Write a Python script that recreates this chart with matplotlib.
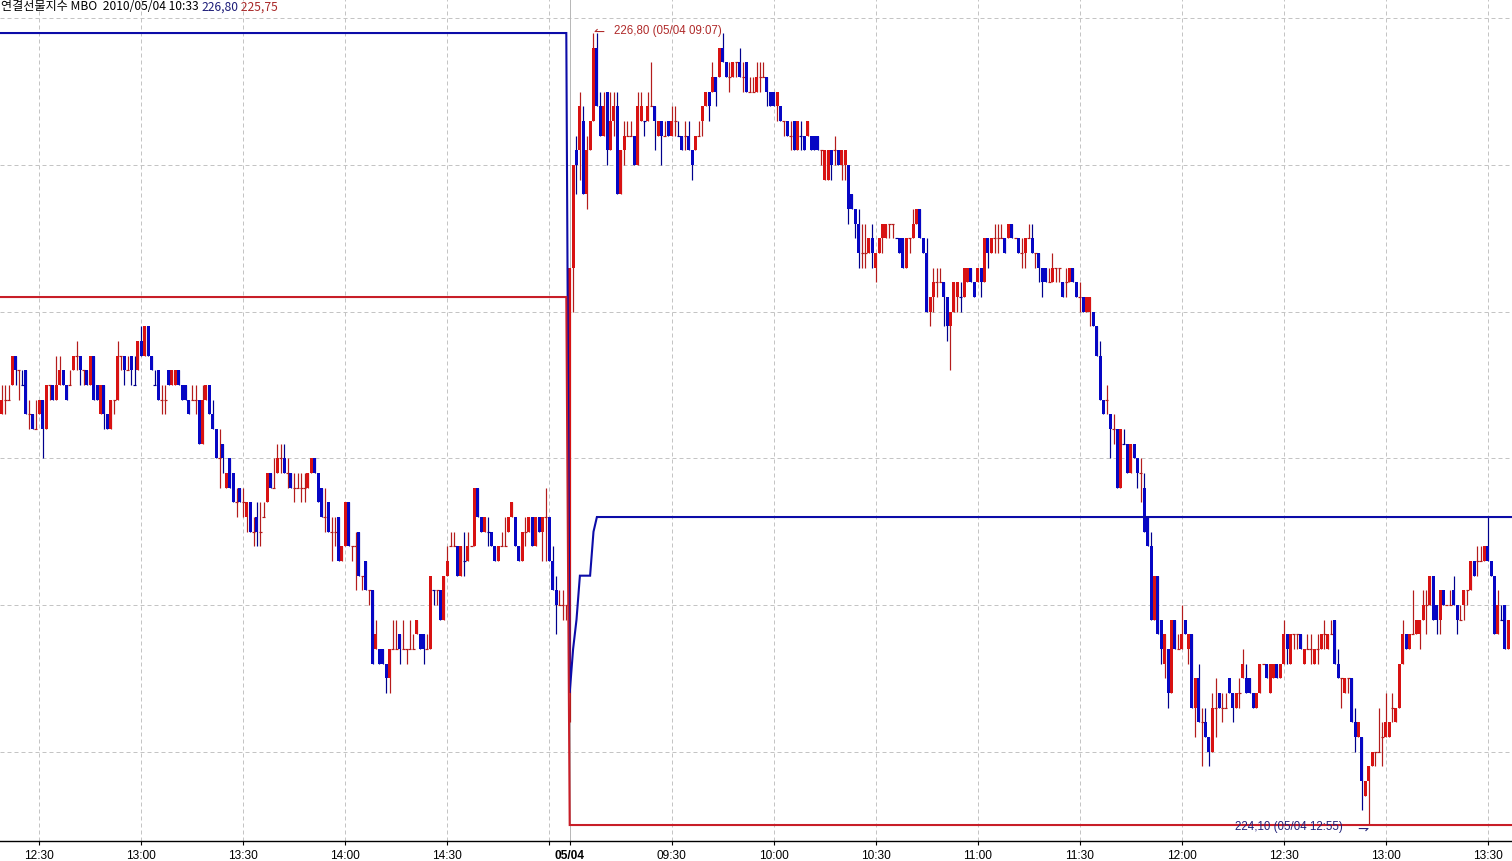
import matplotlib
matplotlib.use("Agg")

import numpy as np
import matplotlib.pyplot as plt
from matplotlib.transforms import offset_copy

# 1분봉, 전일 세션 (12:19 ~ 15:05)
prev_start = "12:19"
prev_open = [
    225.50, 225.55, 225.55, 225.60, 225.70, 225.65, 225.60, 225.65, 225.50, 225.50,
    225.45, 225.50, 225.55, 225.45, 225.60, 225.60, 225.55, 225.60, 225.65, 225.60,
    225.60, 225.65, 225.70, 225.70, 225.65, 225.65, 225.60, 225.70, 225.60, 225.50,
    225.60, 225.50, 225.45, 225.55, 225.55, 225.70, 225.70, 225.65, 225.70, 225.60,
    225.65, 225.75, 225.70, 225.80, 225.70, 225.60, 225.65, 225.55, 225.55, 225.65,
    225.60, 225.60, 225.65, 225.60, 225.60, 225.55, 225.55, 225.55, 225.55, 225.40,
    225.55, 225.60, 225.50, 225.45, 225.35, 225.40, 225.25, 225.35, 225.30, 225.20,
    225.25, 225.20, 225.15, 225.20, 225.10, 225.15, 225.10, 225.15, 225.20, 225.30,
    225.25, 225.30, 225.35, 225.35, 225.30, 225.30, 225.25, 225.25, 225.25, 225.25,
    225.25, 225.30, 225.35, 225.30, 225.25, 225.15, 225.20, 225.10, 225.10, 225.15,
    225.00, 225.05, 225.20, 225.05, 225.05, 225.10, 224.95, 225.00, 224.90, 224.90,
    224.70, 224.70, 224.70, 224.65, 224.60, 224.70, 224.70, 224.75, 224.70, 224.70,
    224.70, 224.70, 224.75, 224.75, 224.75, 224.70, 224.70, 224.90, 224.90, 224.90,
    224.80, 224.95, 225.05, 225.05, 225.05, 224.95, 225.00, 225.00, 225.05, 225.05,
    225.25, 225.15, 225.10, 225.10, 225.10, 225.05, 225.00, 225.05, 225.05, 225.10,
    225.15, 225.15, 225.05, 225.00, 225.10, 225.10, 225.15, 225.05, 225.15, 225.10,
    225.15, 225.15, 225.00, 224.90, 224.85, 224.85, 224.85,
]
prev_high = [
    225.60, 225.60, 225.60, 225.70, 225.70, 225.65, 225.65, 225.65, 225.55, 225.50,
    225.55, 225.55, 225.55, 225.60, 225.60, 225.60, 225.70, 225.70, 225.65, 225.60,
    225.65, 225.70, 225.75, 225.70, 225.65, 225.65, 225.70, 225.70, 225.60, 225.60,
    225.60, 225.50, 225.55, 225.55, 225.75, 225.70, 225.70, 225.70, 225.70, 225.70,
    225.75, 225.80, 225.80, 225.80, 225.70, 225.65, 225.65, 225.60, 225.60, 225.65,
    225.65, 225.65, 225.65, 225.60, 225.60, 225.55, 225.60, 225.60, 225.55, 225.60,
    225.60, 225.60, 225.55, 225.45, 225.45, 225.40, 225.30, 225.35, 225.30, 225.25,
    225.25, 225.25, 225.20, 225.20, 225.15, 225.20, 225.20, 225.20, 225.30, 225.30,
    225.35, 225.40, 225.40, 225.40, 225.35, 225.30, 225.30, 225.30, 225.30, 225.30,
    225.30, 225.35, 225.35, 225.30, 225.25, 225.25, 225.20, 225.15, 225.15, 225.15,
    225.05, 225.20, 225.20, 225.05, 225.10, 225.10, 224.95, 225.00, 224.90, 224.90,
    224.80, 224.70, 224.70, 224.65, 224.70, 224.80, 224.80, 224.75, 224.80, 224.70,
    224.80, 224.75, 224.80, 224.75, 224.75, 224.75, 224.95, 224.90, 224.90, 224.90,
    224.95, 225.05, 225.10, 225.10, 225.05, 225.05, 225.10, 225.10, 225.05, 225.25,
    225.25, 225.15, 225.15, 225.15, 225.10, 225.05, 225.05, 225.10, 225.15, 225.15,
    225.20, 225.15, 225.05, 225.10, 225.15, 225.15, 225.15, 225.15, 225.15, 225.15,
    225.25, 225.15, 225.05, 224.95, 224.90, 224.90, 224.85,
]
prev_low = [
    225.50, 225.50, 225.55, 225.60, 225.60, 225.55, 225.60, 225.50, 225.45, 225.45,
    225.45, 225.50, 225.35, 225.45, 225.55, 225.55, 225.55, 225.60, 225.60, 225.55,
    225.60, 225.65, 225.65, 225.60, 225.60, 225.60, 225.60, 225.55, 225.55, 225.50,
    225.45, 225.45, 225.45, 225.50, 225.55, 225.65, 225.60, 225.65, 225.60, 225.60,
    225.65, 225.70, 225.70, 225.70, 225.65, 225.60, 225.55, 225.50, 225.50, 225.60,
    225.60, 225.60, 225.60, 225.55, 225.55, 225.50, 225.55, 225.50, 225.40, 225.40,
    225.55, 225.50, 225.45, 225.35, 225.25, 225.30, 225.25, 225.25, 225.20, 225.15,
    225.20, 225.15, 225.10, 225.10, 225.05, 225.05, 225.05, 225.15, 225.20, 225.25,
    225.25, 225.30, 225.30, 225.30, 225.25, 225.25, 225.20, 225.25, 225.20, 225.20,
    225.25, 225.30, 225.30, 225.20, 225.15, 225.10, 225.10, 225.00, 225.05, 225.00,
    225.00, 225.05, 225.05, 225.00, 224.90, 224.95, 224.90, 224.90, 224.85, 224.65,
    224.70, 224.65, 224.65, 224.55, 224.55, 224.70, 224.70, 224.65, 224.70, 224.65,
    224.70, 224.70, 224.75, 224.70, 224.65, 224.70, 224.70, 224.85, 224.85, 224.80,
    224.80, 224.95, 225.05, 225.05, 224.95, 224.95, 224.95, 225.00, 225.05, 225.05,
    225.15, 225.10, 225.10, 225.05, 225.05, 225.00, 225.00, 225.05, 225.05, 225.10,
    225.15, 225.05, 225.00, 225.00, 225.05, 225.10, 225.05, 225.05, 225.10, 225.00,
    225.00, 225.00, 224.90, 224.75, 224.85, 224.80, 224.80,
]
prev_close = [
    225.55, 225.55, 225.55, 225.70, 225.65, 225.65, 225.60, 225.50, 225.50, 225.45,
    225.45, 225.55, 225.45, 225.60, 225.60, 225.55, 225.60, 225.65, 225.60, 225.55,
    225.60, 225.70, 225.70, 225.65, 225.65, 225.60, 225.70, 225.55, 225.55, 225.60,
    225.50, 225.45, 225.55, 225.55, 225.70, 225.70, 225.65, 225.65, 225.65, 225.60,
    225.75, 225.70, 225.80, 225.70, 225.65, 225.60, 225.55, 225.55, 225.55, 225.60,
    225.65, 225.65, 225.60, 225.55, 225.55, 225.50, 225.55, 225.55, 225.40, 225.55,
    225.60, 225.50, 225.45, 225.35, 225.35, 225.35, 225.30, 225.25, 225.20, 225.20,
    225.20, 225.20, 225.20, 225.10, 225.10, 225.10, 225.10, 225.15, 225.30, 225.25,
    225.25, 225.35, 225.35, 225.30, 225.30, 225.25, 225.25, 225.25, 225.25, 225.25,
    225.30, 225.35, 225.30, 225.20, 225.15, 225.15, 225.10, 225.10, 225.10, 225.00,
    225.05, 225.20, 225.05, 225.05, 225.05, 224.95, 224.95, 224.90, 224.90, 224.65,
    224.75, 224.65, 224.65, 224.60, 224.70, 224.70, 224.70, 224.70, 224.70, 224.70,
    224.70, 224.70, 224.80, 224.70, 224.70, 224.70, 224.95, 224.90, 224.90, 224.80,
    224.95, 225.00, 225.05, 225.05, 224.95, 225.05, 225.00, 225.05, 225.05, 225.25,
    225.15, 225.10, 225.15, 225.10, 225.05, 225.00, 225.05, 225.05, 225.05, 225.15,
    225.20, 225.05, 225.00, 225.10, 225.10, 225.15, 225.05, 225.15, 225.10, 225.15,
    225.15, 225.00, 224.90, 224.85, 224.85, 224.85, 224.85,
]

# 당일 세션 (05/04 09:00 ~ 13:36)
cur_date = "05/04"
cur_start = "09:00"
cur_open = [
    224.55, 226.00, 226.40, 226.40, 226.50, 226.25, 226.40, 226.50, 226.75, 226.55,
    226.45, 226.60, 226.40, 226.50, 226.55, 226.25, 226.40, 226.45, 226.45, 226.45,
    226.35, 226.50, 226.50, 226.50, 226.55, 226.55, 226.45, 226.50, 226.45, 226.50,
    226.45, 226.50, 226.45, 226.45, 226.45, 226.45, 226.40, 226.40, 226.45, 226.50,
    226.55, 226.60, 226.60, 226.65, 226.65, 226.75, 226.70, 226.65, 226.65, 226.70,
    226.70, 226.65, 226.70, 226.60, 226.60, 226.60, 226.65, 226.65, 226.65, 226.60,
    226.60, 226.55, 226.55, 226.50, 226.50, 226.45, 226.50, 226.40, 226.45, 226.45,
    226.45, 226.45, 226.45, 226.45, 226.40, 226.30, 226.30, 226.40, 226.40, 226.40,
    226.35, 226.35, 226.35, 226.25, 226.20, 226.15, 226.05, 226.05, 226.05, 226.10,
    226.00, 226.05, 226.10, 226.10, 226.15, 226.15, 226.10, 226.10, 226.10, 226.00,
    226.10, 226.10, 226.15, 226.20, 226.10, 226.05, 225.85, 225.90, 225.95, 225.95,
    225.95, 225.90, 225.80, 225.85, 225.90, 225.90, 225.90, 225.95, 226.00, 225.95,
    225.95, 226.00, 225.95, 226.10, 226.05, 226.10, 226.10, 226.10, 226.10, 226.10,
    226.15, 226.10, 226.10, 226.05, 226.05, 226.10, 226.10, 226.05, 226.05, 226.00,
    226.00, 225.95, 225.95, 226.00, 226.00, 225.95, 225.95, 225.95, 226.00, 225.95,
    225.90, 225.90, 225.85, 225.85, 225.85, 225.80, 225.70, 225.55, 225.55, 225.50,
    225.45, 225.45, 225.25, 225.40, 225.40, 225.30, 225.40, 225.35, 225.30, 225.25,
    225.15, 225.05, 224.80, 224.95, 224.80, 224.65, 224.70, 224.55, 224.80, 224.70,
    224.70, 224.80, 224.70, 224.75, 224.50, 224.60, 224.45, 224.45, 224.40, 224.35,
    224.50, 224.55, 224.50, 224.50, 224.60, 224.55, 224.50, 224.55, 224.60, 224.60,
    224.60, 224.55, 224.50, 224.55, 224.65, 224.65, 224.55, 224.60, 224.65, 224.60,
    224.65, 224.75, 224.65, 224.75, 224.75, 224.75, 224.65, 224.70, 224.70, 224.65,
    224.70, 224.70, 224.75, 224.70, 224.75, 224.80, 224.65, 224.60, 224.55, 224.60,
    224.60, 224.45, 224.40, 224.40, 224.20, 224.25, 224.30, 224.35, 224.35, 224.40,
    224.40, 224.40, 224.50, 224.45, 224.50, 224.65, 224.75, 224.70, 224.75, 224.75,
    224.75, 224.80, 224.85, 224.85, 224.95, 224.85, 224.80, 224.90, 224.85, 224.85,
    224.90, 224.85, 224.80, 224.85, 224.90, 224.90, 225.00, 225.00, 225.00, 225.00,
    225.05, 225.00, 224.95, 224.75, 224.80, 224.85, 224.70,
]
cur_high = [
    226.00, 226.35, 226.45, 226.60, 226.55, 226.45, 226.50, 226.80, 226.80, 226.60,
    226.60, 226.60, 226.60, 226.60, 226.60, 226.40, 226.50, 226.50, 226.50, 226.45,
    226.60, 226.60, 226.50, 226.60, 226.70, 226.55, 226.50, 226.50, 226.50, 226.50,
    226.55, 226.55, 226.50, 226.45, 226.50, 226.50, 226.40, 226.45, 226.50, 226.55,
    226.60, 226.60, 226.70, 226.65, 226.75, 226.80, 226.70, 226.70, 226.70, 226.70,
    226.75, 226.70, 226.70, 226.65, 226.65, 226.70, 226.70, 226.70, 226.65, 226.60,
    226.60, 226.60, 226.55, 226.50, 226.50, 226.50, 226.50, 226.50, 226.50, 226.45,
    226.50, 226.45, 226.45, 226.45, 226.40, 226.40, 226.40, 226.40, 226.45, 226.40,
    226.40, 226.40, 226.35, 226.25, 226.20, 226.20, 226.15, 226.15, 226.10, 226.15,
    226.05, 226.10, 226.15, 226.15, 226.15, 226.15, 226.10, 226.10, 226.10, 226.10,
    226.10, 226.20, 226.20, 226.20, 226.10, 226.10, 225.90, 226.00, 226.00, 226.00,
    225.95, 225.90, 225.85, 225.95, 225.95, 225.95, 226.00, 226.00, 226.00, 225.95,
    226.00, 226.00, 226.10, 226.10, 226.10, 226.15, 226.15, 226.15, 226.10, 226.15,
    226.15, 226.10, 226.10, 226.10, 226.10, 226.15, 226.15, 226.05, 226.05, 226.00,
    226.00, 226.00, 226.05, 226.00, 226.00, 225.95, 226.00, 226.00, 226.00, 225.95,
    225.95, 225.90, 225.90, 225.90, 225.85, 225.80, 225.75, 225.55, 225.60, 225.50,
    225.50, 225.45, 225.45, 225.45, 225.40, 225.40, 225.40, 225.35, 225.35, 225.30,
    225.15, 225.10, 224.95, 224.95, 224.80, 224.75, 224.70, 224.80, 224.80, 224.75,
    224.85, 224.80, 224.75, 224.75, 224.60, 224.65, 224.50, 224.50, 224.40, 224.55,
    224.60, 224.55, 224.55, 224.55, 224.60, 224.55, 224.55, 224.60, 224.70, 224.65,
    224.60, 224.55, 224.55, 224.65, 224.65, 224.65, 224.65, 224.65, 224.65, 224.65,
    224.80, 224.75, 224.75, 224.75, 224.75, 224.75, 224.70, 224.75, 224.75, 224.70,
    224.75, 224.75, 224.80, 224.75, 224.80, 224.80, 224.70, 224.60, 224.60, 224.60,
    224.60, 224.50, 224.45, 224.40, 224.25, 224.30, 224.35, 224.35, 224.50, 224.45,
    224.55, 224.45, 224.55, 224.50, 224.65, 224.80, 224.75, 224.75, 224.90, 224.80,
    224.80, 224.90, 224.90, 224.95, 224.95, 224.85, 224.90, 224.90, 224.85, 224.90,
    224.95, 224.85, 224.85, 224.90, 224.90, 225.00, 225.00, 225.05, 225.05, 225.05,
    225.15, 225.00, 224.95, 224.90, 224.85, 224.85, 224.80,
]
cur_low = [
    224.45, 225.85, 226.25, 226.30, 226.25, 226.20, 226.40, 226.50, 226.55, 226.45,
    226.45, 226.35, 226.40, 226.45, 226.25, 226.25, 226.35, 226.45, 226.45, 226.35,
    226.35, 226.50, 226.45, 226.50, 226.55, 226.40, 226.45, 226.35, 226.45, 226.45,
    226.45, 226.45, 226.45, 226.40, 226.40, 226.40, 226.30, 226.40, 226.45, 226.45,
    226.55, 226.50, 226.60, 226.55, 226.65, 226.70, 226.65, 226.60, 226.65, 226.65,
    226.65, 226.60, 226.60, 226.60, 226.60, 226.60, 226.60, 226.65, 226.55, 226.55,
    226.55, 226.50, 226.50, 226.45, 226.45, 226.40, 226.40, 226.40, 226.40, 226.40,
    226.45, 226.40, 226.40, 226.40, 226.35, 226.30, 226.30, 226.30, 226.35, 226.35,
    226.30, 226.30, 226.15, 226.20, 226.10, 226.00, 226.00, 226.00, 226.05, 226.00,
    225.95, 226.05, 226.05, 226.10, 226.10, 226.10, 226.10, 226.05, 226.00, 226.00,
    226.05, 226.10, 226.15, 226.10, 226.05, 225.85, 225.80, 225.85, 225.90, 225.95,
    225.80, 225.75, 225.65, 225.85, 225.85, 225.85, 225.90, 225.95, 225.95, 225.90,
    225.95, 225.90, 225.95, 226.00, 226.05, 226.05, 226.05, 226.10, 226.05, 226.10,
    226.10, 226.10, 226.05, 226.00, 226.00, 226.10, 226.05, 226.00, 225.95, 225.90,
    225.95, 225.95, 225.95, 225.95, 225.95, 225.90, 225.90, 225.95, 225.95, 225.90,
    225.85, 225.85, 225.85, 225.80, 225.80, 225.70, 225.55, 225.50, 225.50, 225.35,
    225.40, 225.25, 225.25, 225.40, 225.30, 225.30, 225.35, 225.25, 225.20, 225.10,
    225.05, 224.80, 224.80, 224.75, 224.65, 224.60, 224.50, 224.55, 224.70, 224.70,
    224.70, 224.75, 224.65, 224.50, 224.40, 224.45, 224.30, 224.40, 224.30, 224.35,
    224.40, 224.50, 224.45, 224.50, 224.55, 224.45, 224.50, 224.50, 224.60, 224.55,
    224.55, 224.50, 224.50, 224.55, 224.65, 224.60, 224.55, 224.60, 224.60, 224.60,
    224.65, 224.65, 224.65, 224.70, 224.70, 224.70, 224.65, 224.70, 224.65, 224.65,
    224.65, 224.70, 224.70, 224.70, 224.75, 224.65, 224.60, 224.50, 224.55, 224.55,
    224.45, 224.35, 224.40, 224.15, 224.20, 224.10, 224.30, 224.30, 224.35, 224.30,
    224.40, 224.40, 224.45, 224.45, 224.50, 224.65, 224.70, 224.70, 224.75, 224.75,
    224.70, 224.80, 224.75, 224.85, 224.80, 224.75, 224.75, 224.85, 224.85, 224.85,
    224.85, 224.75, 224.80, 224.80, 224.85, 224.90, 224.95, 224.95, 225.00, 225.00,
    225.00, 224.95, 224.75, 224.75, 224.80, 224.70, 224.70,
]
cur_close = [
    226.00, 226.35, 226.35, 226.55, 226.25, 226.40, 226.50, 226.75, 226.55, 226.45,
    226.55, 226.40, 226.50, 226.55, 226.25, 226.40, 226.45, 226.45, 226.45, 226.35,
    226.55, 226.55, 226.50, 226.55, 226.55, 226.50, 226.50, 226.45, 226.45, 226.45,
    226.50, 226.50, 226.45, 226.40, 226.45, 226.40, 226.35, 226.45, 226.45, 226.55,
    226.60, 226.55, 226.65, 226.60, 226.75, 226.70, 226.65, 226.65, 226.70, 226.70,
    226.65, 226.65, 226.60, 226.60, 226.60, 226.65, 226.65, 226.65, 226.60, 226.55,
    226.55, 226.60, 226.50, 226.50, 226.45, 226.45, 226.40, 226.50, 226.45, 226.40,
    226.50, 226.40, 226.40, 226.40, 226.40, 226.40, 226.40, 226.35, 226.40, 226.35,
    226.40, 226.40, 226.20, 226.20, 226.15, 226.05, 226.05, 226.05, 226.10, 226.05,
    226.05, 226.10, 226.15, 226.15, 226.15, 226.15, 226.10, 226.05, 226.00, 226.10,
    226.10, 226.15, 226.20, 226.10, 226.05, 225.85, 225.90, 225.95, 225.95, 225.95,
    225.90, 225.80, 225.85, 225.95, 225.95, 225.90, 226.00, 226.00, 225.95, 225.90,
    226.00, 225.95, 226.10, 226.05, 226.10, 226.10, 226.10, 226.10, 226.05, 226.15,
    226.10, 226.10, 226.05, 226.05, 226.10, 226.10, 226.05, 226.05, 226.00, 225.95,
    225.95, 225.95, 226.00, 226.00, 226.00, 225.90, 225.95, 226.00, 225.95, 225.90,
    225.90, 225.85, 225.90, 225.90, 225.80, 225.70, 225.55, 225.50, 225.55, 225.45,
    225.45, 225.25, 225.45, 225.40, 225.30, 225.40, 225.35, 225.30, 225.30, 225.10,
    225.05, 224.80, 224.95, 224.75, 224.70, 224.75, 224.55, 224.80, 224.70, 224.70,
    224.75, 224.75, 224.75, 224.50, 224.60, 224.45, 224.45, 224.40, 224.35, 224.50,
    224.50, 224.50, 224.50, 224.50, 224.55, 224.50, 224.55, 224.55, 224.65, 224.55,
    224.55, 224.50, 224.55, 224.65, 224.65, 224.60, 224.65, 224.65, 224.60, 224.65,
    224.75, 224.70, 224.75, 224.75, 224.75, 224.70, 224.70, 224.70, 224.70, 224.70,
    224.70, 224.75, 224.75, 224.75, 224.75, 224.65, 224.60, 224.60, 224.60, 224.60,
    224.45, 224.40, 224.45, 224.25, 224.25, 224.30, 224.35, 224.35, 224.35, 224.40,
    224.45, 224.45, 224.50, 224.50, 224.65, 224.75, 224.70, 224.75, 224.75, 224.80,
    224.80, 224.85, 224.85, 224.95, 224.80, 224.80, 224.90, 224.85, 224.85, 224.85,
    224.85, 224.80, 224.80, 224.90, 224.90, 225.00, 224.95, 225.00, 225.00, 225.05,
    225.00, 224.95, 224.75, 224.85, 224.80, 224.70, 224.80,
]

# MBO 라인
prev_mbo_high = 226.80
prev_mbo_low = 225.90
cur_mbo_low = 224.10
cur_mbo_high = [224.55, 224.70, 224.80, 224.95, 224.95, 224.95, 224.95, 225.10, 225.15]

grid_prices = [226.85, 226.35, 225.85, 225.35, 224.85, 224.35]
prev_ticks = ["12:30", "13:00", "13:30", "14:00", "14:30", "15:00"]
cur_ticks = ["09:30", "10:00", "10:30", "11:00", "11:30", "12:00", "12:30", "13:00", "13:30"]

header_label = "연결선물지수 MBO  2010/05/04 10:33 "
header_val1 = "226,80"
header_val2 = "225,75"

RED_BODY = "#d81212"
RED_WICK = "#b41c1c"
BLUE_BODY = "#0606c4"
BLUE_WICK = "#00008c"
MBO_BLUE = "#0c0ca8"
MBO_RED = "#c81e28"
GRID = "#c4c4c4"
PX = 0.72  # 1 px in points


def minutes(hhmm):
    h, m = hhmm.split(":")
    return int(h) * 60 + int(m)


n_prev = len(prev_close)
n_cur = len(cur_close)

o = np.array(prev_open + cur_open)
h = np.array(prev_high + cur_high)
l = np.array(prev_low + cur_low)
c = np.array(prev_close + cur_close)
x = np.arange(len(c))

last = np.concatenate([[c[0]], c[:-1]])
up = (c > o) | ((c == o) & (c >= last))

fig = plt.figure(figsize=(15.12, 8.62), dpi=100)
ax = fig.add_axes([0, 20 / 862, 1, 842 / 862])
ax.set_xlim(-0.56, n_prev + n_cur + 0.15)
ax.set_ylim(224.0455, 226.916)

# 격자
for p in grid_prices:
    ax.axhline(p, color=GRID, lw=PX, dashes=(4, 3), zorder=1)

prev_tick_x = [minutes(t) - minutes(prev_start) for t in prev_ticks]
cur_tick_x = [n_prev + minutes(t) - minutes(cur_start) for t in cur_ticks]
for tx in prev_tick_x + cur_tick_x:
    ax.axvline(tx, color=GRID, lw=PX, dashes=(4, 3), zorder=1)
ax.axvline(n_prev, color="#b8b8b8", lw=PX, zorder=1)

# 캔들
bw = 0.88
for is_up, body_c, wick_c in [(True, RED_BODY, RED_WICK), (False, BLUE_BODY, BLUE_WICK)]:
    sel = up == is_up
    ax.vlines(x[sel], l[sel], h[sel], color=wick_c, lw=PX * 1.2, zorder=2)
    body = sel & (o != c)
    lo = np.minimum(o, c)[body]
    ht = np.abs(o - c)[body]
    ax.bar(x[body], ht, bottom=lo, width=bw, color=body_c, linewidth=0, zorder=2)
    doji = sel & (o == c)
    ax.hlines(c[doji], x[doji] - bw / 2, x[doji] + bw / 2, color=wick_c, lw=PX * 1.2, zorder=2)

# MBO 라인
x_end = n_prev + n_cur + 0.2
blue_x = [-0.6, n_prev - 1] + [n_prev + i for i in range(len(cur_mbo_high))] + [x_end]
blue_y = [prev_mbo_high, prev_mbo_high] + cur_mbo_high + [cur_mbo_high[-1]]
ax.plot(blue_x, blue_y, color=MBO_BLUE, lw=1.5, zorder=3, solid_joinstyle="miter")
ax.plot([-0.6, n_prev - 1, n_prev, x_end],
        [prev_mbo_low, prev_mbo_low, cur_mbo_low, cur_mbo_low],
        color=MBO_RED, lw=1.5, zorder=3, solid_joinstyle="miter")

# 축
for s in ["left", "right", "top"]:
    ax.spines[s].set_visible(False)
ax.spines["bottom"].set_linewidth(1.0)
ax.set_yticks([])

tick_font = ["Liberation Sans", "DejaVu Sans"]
all_x = prev_tick_x + [n_prev] + cur_tick_x
all_lab = prev_ticks[:-1] + [""] + [cur_date] + cur_ticks
ax.set_xticks(all_x)
ax.set_xticklabels(all_lab)
ax.tick_params(axis="x", direction="out", length=3, width=0.8, pad=2.5, labelsize=8.6)
for t in ax.get_xticklabels():
    t.set_fontfamily(tick_font)
    if t.get_text() == cur_date:
        t.set_fontweight("bold")


# 고가/저가 표시
def fmt(v):
    return ("%.2f" % v).replace(".", ",")


def bar_time(i):
    t = minutes(cur_start) + i
    return "%02d:%02d" % (t // 60, t % 60)


hi = int(np.argmax(cur_high))
lo_i = int(np.argmin(cur_low))

hi_tr = offset_copy(ax.transData, fig=fig, x=0, y=2, units="dots")
ax.text(n_prev + hi, cur_high[hi], "\u21bc", transform=hi_tr, ha="left", va="center",
        color="#b02a2a", fontsize=9.5, fontfamily="DejaVu Sans", zorder=4)
hi_tr2 = offset_copy(ax.transData, fig=fig, x=21, y=3, units="dots")
ax.text(n_prev + hi, cur_high[hi], "%s (%s %s)" % (fmt(cur_high[hi]), cur_date, bar_time(hi)),
        transform=hi_tr2, ha="left", va="center", color="#b02a2a", fontsize=8.3,
        fontfamily=tick_font, zorder=4)

lo_tr = offset_copy(ax.transData, fig=fig, x=0, y=-3, units="dots")
ax.text(n_prev + lo_i, cur_low[lo_i], "\u21c1", transform=lo_tr, ha="right", va="center",
        color="#22227a", fontsize=9.5, fontfamily="DejaVu Sans", zorder=4)
lo_tr2 = offset_copy(ax.transData, fig=fig, x=-26, y=-1, units="dots")
ax.text(n_prev + lo_i, cur_low[lo_i], "%s (%s %s)" % (fmt(cur_low[lo_i]), cur_date, bar_time(lo_i)),
        transform=lo_tr2, ha="right", va="center", color="#22227a", fontsize=8.3,
        fontfamily=tick_font, zorder=4)

# 상단 제목
head_font = ["Noto Sans CJK KR", "DejaVu Sans"]
t1 = fig.text(1 / 1512, 1 - 7 / 862, header_label, fontsize=8.7, fontfamily=head_font,
              va="center", ha="left", color="black")
t2 = ax.annotate(header_val1, xy=(1, 0), xycoords=t1, va="bottom", ha="left",
                 fontsize=8.7, fontfamily=head_font, color="#1c1c78")
t3 = ax.annotate(" " + header_val2, xy=(1, 0), xycoords=t2, va="bottom", ha="left",
                 fontsize=8.7, fontfamily=head_font, color="#a82828")

fig.savefig("out.png", dpi=100, facecolor="white")
